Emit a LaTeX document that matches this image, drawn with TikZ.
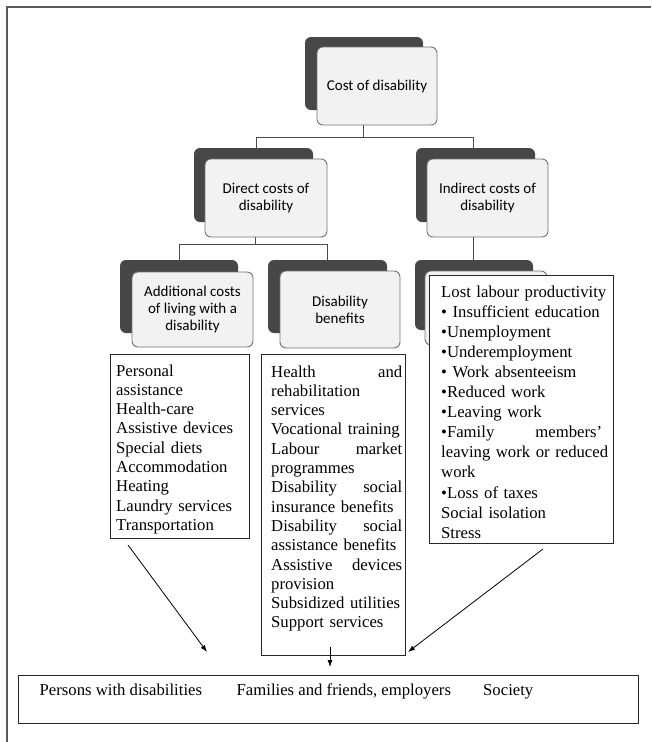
\documentclass[tikz,border=0pt]{standalone}
\usepackage{fontspec}
\setmainfont{Liberation Serif}
\setsansfont{Carlito}
\usetikzlibrary{arrows.meta}
\newcommand{\jline}[3]{\makebox[#1][l]{#2\hfill #3}}
\begin{document}
\begin{tikzpicture}[x=1pt,y=-1pt,
  back/.style={fill=black!72, draw=none, rounded corners=6pt, inner sep=0pt},
  front/.style={fill=black!5, draw=black!55, line width=0.9pt, rounded corners=6pt, inner sep=0pt, align=center, font=\fontsize{15}{17}\selectfont\sffamily},
  list/.style={fill=white, draw=black!85, line width=0.9pt, inner sep=0pt},
  listtext/.style={inner sep=0pt, anchor=base west, font=\fontsize{16.7}{19.3}\selectfont, align=left, text width=175pt},
  bottomtext/.style={inner sep=0pt, anchor=base west, font=\fontsize{16.7}{19.3}\selectfont},
  conn/.style={draw=black!70, line width=0.8pt},
  arr/.style={draw=black, line width=0.8pt, -{Latex[length=7pt,width=5pt]}},
  frame/.style={draw=black!65, line width=1.2pt}
]
\useasboundingbox (0,0) rectangle (651,742);

% outer frame (only left and top edges visible)
\coordinate (fr1) at (7,742);
\coordinate (fr2) at (7,7);
\coordinate (fr3) at (651,7);
\draw[frame] (fr1) -- (fr2) -- (fr3);

% Level 1
\node[back, minimum width=118pt, minimum height=73pt] (costb) at (364,73.5) {};
\node[front, minimum width=120pt, minimum height=78pt] (costf) at (377,86) {Cost of disability};

% Level 2
\node[back, minimum width=119pt, minimum height=74pt] (dirb) at (253.5,185) {};
\node[front, minimum width=122pt, minimum height=78pt] (dirf) at (266,198) {Direct costs of\\disability};
\node[back, minimum width=119pt, minimum height=74pt] (indb) at (475.5,185) {};
\node[front, minimum width=121pt, minimum height=78pt] (indf) at (487.5,198) {Indirect costs of\\disability};

% Level 3
\node[back, minimum width=118pt, minimum height=73pt] (addb) at (179,296.5) {};
\node[front, minimum width=121pt, minimum height=75pt] (addf) at (192.5,309.5) {Additional costs\\of living with a\\disability};
\node[back, minimum width=119pt, minimum height=73pt] (benb) at (327.5,296.5) {};
\node[front, minimum width=120pt, minimum height=77pt] (benf) at (340,309.5) {Disability\\benefits};
\node[back, minimum width=118pt, minimum height=70pt] (lostb) at (474,295) {};
\node[front, minimum width=122pt, minimum height=74pt] (lostf) at (486,308) {};

% connectors of the tree
\coordinate (j1) at (363,137);
\coordinate (j1l) at (256,137);
\coordinate (j1r) at (473,137);
\draw[conn] (costf.south -| j1) -- (j1);
\draw[conn] (dirb.north -| j1l) -- (j1l) -- (j1r) -- (indb.north -| j1r);
\coordinate (j2) at (255,244);
\coordinate (j2l) at (179,244);
\coordinate (j2r) at (327,244);
\draw[conn] (dirf.south -| j2) -- (j2);
\draw[conn] (addb.north -| j2l) -- (j2l) -- (j2r) -- (benb.north -| j2r);
\coordinate (j3) at (473,238);
\draw[conn] (indf.south -| j3) -- (lostb.north -| j3);

% list boxes
\node[list, minimum width=139pt, minimum height=184pt] (leftlist) at (179.5,446) {};
\node[list, minimum width=144pt, minimum height=301pt] (midlist) at (333,504.5) {};
\node[list, minimum width=184pt, minimum height=268pt] (rightlist) at (521,409) {};

\node[listtext] (lefttext) at (116,376) {Personal\\assistance\\Health-care\\Assistive devices\\Special diets\\Accommodation\\Heating\\Laundry services\\Transportation};

\node[listtext] (midtext) at (271,377) {\jline{131pt}{Health}{and}\\rehabilitation\\services\\Vocational training\\\jline{131pt}{Labour}{market}\\programmes\\\jline{131pt}{Disability}{social}\\insurance benefits\\\jline{131pt}{Disability}{social}\\assistance benefits\\\jline{131pt}{Assistive}{devices}\\provision\\Subsidized utilities\\Support services};

\node[listtext, font=\fontsize{16.7}{20.1}\selectfont] (righttext) at (441,297) {Lost labour productivity\\• Insufficient education\\•Unemployment\\•Underemployment\\• Work absenteeism\\•Reduced work\\•Leaving work\\\jline{161pt}{•Family}{members'}\\leaving work or reduced\\work\\•Loss of taxes\\Social isolation\\Stress};

% bottom box
\node[list, minimum width=620pt, minimum height=48pt] (bottombox) at (328,699) {};
\node[bottomtext] (t1) at (39.5,695) {Persons with disabilities};
\node[bottomtext] (t2) at (236.5,695) {Families and friends, employers};
\node[bottomtext] (t3) at (483,695) {Society};

% arrows
\coordinate (la) at (128,545);
\coordinate (lb) at (207,652);
\coordinate (ra) at (543,549);
\coordinate (rb) at (408,652);
\coordinate (ma) at (330,647);
\coordinate (mb) at (330,667);
\draw[arr] (la) -- (lb);
\draw[arr] (ra) -- (rb);
\draw[arr] (ma) -- (mb);
\end{tikzpicture}
\end{document}
